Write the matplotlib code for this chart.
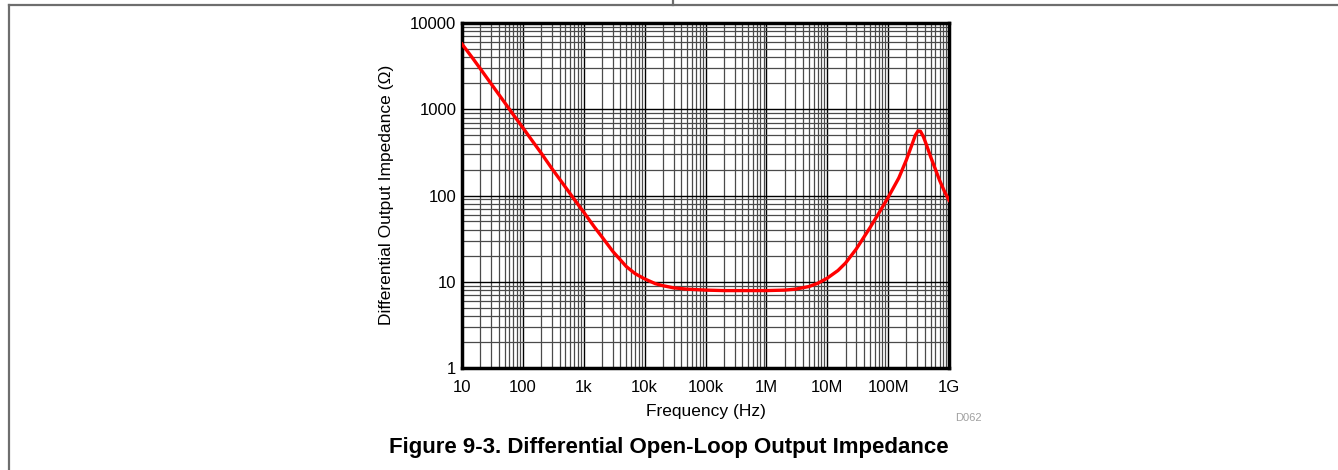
import numpy as np
import matplotlib.pyplot as plt
from matplotlib.lines import Line2D
from matplotlib.ticker import FixedLocator, LogLocator, NullFormatter

plt.rcParams['font.family'] = ['Liberation Sans', 'DejaVu Sans']

# =========================
# Data
# =========================
freq_hz = [10, 15, 20, 30, 50, 70, 100, 150, 200, 300, 500, 700,
           1e3, 1.5e3, 2e3, 3e3, 5e3, 7e3, 1e4, 1.5e4, 2e4, 3e4, 5e4,
           1e5, 2e5, 5e5, 1e6, 2e6, 3e6, 5e6, 7e6, 1e7, 1.5e7, 2e7,
           3e7, 5e7, 7e7, 1e8, 1.5e8, 2e8, 2.5e8, 2.8e8, 3.1e8, 3.4e8,
           3.8e8, 4.3e8, 5e8, 6e8, 7e8, 8.5e8, 1e9]
impedance_ohm = [5700, 3900, 2950, 1980, 1200, 860, 610, 410, 310, 205, 125, 90,
                 64, 43, 33, 22.5, 15.0, 12.4, 10.8, 9.5, 9.0, 8.5, 8.2,
                 8.0, 7.9, 7.9, 7.9, 8.0, 8.2, 8.8, 9.6, 11.0, 13.5, 16.5,
                 24, 42, 62, 95, 160, 260, 400, 500, 560, 555,
                 480, 380, 280, 200, 150, 110, 88]

x_ticks = [10, 100, 1e3, 1e4, 1e5, 1e6, 1e7, 1e8, 1e9]
x_tick_labels = ['10', '100', '1k', '10k', '100k', '1M', '10M', '100M', '1G']
y_ticks = [1, 10, 100, 1000, 10000]
y_tick_labels = ['1', '10', '100', '1000', '10000']

# =========================
# Figure
# =========================
W, H = 1338, 470
fig = plt.figure(figsize=(W / 100, H / 100), dpi=100)

# page frame lines
frame_color = '#6e6e6e'
fig.add_artist(Line2D([8.5 / W, 1.0], [1 - 5 / H, 1 - 5 / H],
                      transform=fig.transFigure, color=frame_color, lw=1.6))
fig.add_artist(Line2D([8.5 / W, 8.5 / W], [0.0, 1 - 5 / H],
                      transform=fig.transFigure, color=frame_color, lw=1.6))
fig.add_artist(Line2D([673 / W, 673 / W], [1 - 5 / H, 1.0],
                      transform=fig.transFigure, color=frame_color, lw=1.6))

left, right, top, bottom = 462, 949, 23, 368
ax = fig.add_axes([left / W, 1 - bottom / H, (right - left) / W, (bottom - top) / H])

ax.set_xscale('log')
ax.set_yscale('log')
ax.set_xlim(10, 1e9)
ax.set_ylim(1, 10000)

ax.plot(freq_hz, impedance_ohm, color='#ff0000', lw=2.4, zorder=3,
        solid_joinstyle='round')

ax.xaxis.set_major_locator(FixedLocator(x_ticks))
ax.set_xticklabels(x_tick_labels)
ax.yaxis.set_major_locator(FixedLocator(y_ticks))
ax.set_yticklabels(y_tick_labels)
ax.xaxis.set_minor_locator(LogLocator(base=10, subs=np.arange(2, 10), numticks=20))
ax.yaxis.set_minor_locator(LogLocator(base=10, subs=np.arange(2, 10), numticks=20))
ax.xaxis.set_minor_formatter(NullFormatter())
ax.yaxis.set_minor_formatter(NullFormatter())

ax.grid(which='major', color='black', lw=1.0)
ax.grid(which='minor', color='#4a4a4a', lw=0.9)
ax.tick_params(which='both', length=0, labelsize=12)
ax.tick_params(axis='x', pad=9)
ax.tick_params(axis='y', pad=4)
for s in ax.spines.values():
    s.set_linewidth(2.5)

ax.set_xlabel('Frequency (Hz)', fontsize=12.5, labelpad=6)
fig.text(386 / W, 1 - 195 / H, 'Differential Output Impedance (\u03a9)',
         fontsize=12.5, rotation=90, ha='center', va='center')

fig.text(955 / W, 1 - 418 / H, 'D062', fontsize=8, color='#a0a0a0',
         ha='left', va='center')
fig.text(0.5, 1 - 447 / H, 'Figure 9-3. Differential Open-Loop Output Impedance',
         fontsize=16, fontweight='bold', ha='center', va='center')

fig.savefig('out.png', dpi=100)
